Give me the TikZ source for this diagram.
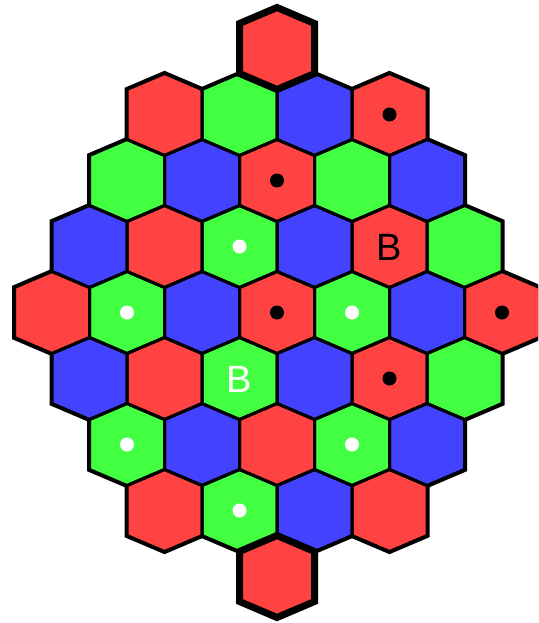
\documentclass[tikz,border=0pt]{standalone}
\usepackage{fontspec}
\setmainfont{Liberation Sans}
\definecolor{cRed}{HTML}{FF4242}
\definecolor{cGreen}{HTML}{42FF42}
\definecolor{cBlue}{HTML}{4242FF}
\tikzset{
  rim/.style={draw=black, line width=5pt},
  cell/.style={draw=black, line width=3pt},
  endcell/.style={draw=black, line width=7pt},
  letter/.style={font=\fontsize{38}{38}\selectfont, inner sep=0pt},
}
% pointy hexagon round centre (#1,#2)
\newcommand{\hexcell}[2]{(#1,#2-41) -- ++(37.5,16) -- ++(0,50) -- ++(-37.5,16) -- ++(-37.5,-16) -- ++(0,-50) -- cycle}
% column offset / row / colour
\newcommand{\boardcells}{0/1/cRed,
  -3/2/cRed, -1/2/cGreen, 1/2/cBlue, 3/2/cRed,
  -4/3/cGreen, -2/3/cBlue, 0/3/cRed, 2/3/cGreen, 4/3/cBlue,
  -5/4/cBlue, -3/4/cRed, -1/4/cGreen, 1/4/cBlue, 3/4/cRed, 5/4/cGreen,
  -6/5/cRed, -4/5/cGreen, -2/5/cBlue, 0/5/cRed, 2/5/cGreen, 4/5/cBlue, 6/5/cRed,
  -5/6/cBlue, -3/6/cRed, -1/6/cGreen, 1/6/cBlue, 3/6/cRed, 5/6/cGreen,
  -4/7/cGreen, -2/7/cBlue, 0/7/cRed, 2/7/cGreen, 4/7/cBlue,
  -3/8/cRed, -1/8/cGreen, 1/8/cBlue, 3/8/cRed,
  0/9/cRed}

\begin{document}
\begin{tikzpicture}[x=1pt, y=-1pt]
  \clip (0,0) rectangle (538,623);
  % thick rim first, the fills then hide its inner half
  \foreach \k/\r/\c [evaluate=\k as \cx using 277+37.5*\k,
      evaluate=\r as \cy using 48.5+66*(\r-1)] in \boardcells
    \draw[rim] \hexcell{\cx}{\cy};
  \foreach \k/\r/\c [evaluate=\k as \cx using 277+37.5*\k,
      evaluate=\r as \cy using 48.5+66*(\r-1)] in \boardcells
    \fill[\c] \hexcell{\cx}{\cy};
  \foreach \k/\r/\c [evaluate=\k as \cx using 277+37.5*\k,
      evaluate=\r as \cy using 48.5+66*(\r-1)] in \boardcells
    \draw[cell] \hexcell{\cx}{\cy};
  % end cells
  \draw[endcell] \hexcell{277}{48.5};
  \draw[endcell] \hexcell{277}{576.5};
  % stones
  \foreach \k/\r/\c [evaluate=\k as \cx using 277+37.5*\k,
      evaluate=\r as \cy using 48.5+66*(\r-1)] in
      {3/2/black, 0/3/black, 0/5/black, 6/5/black, 3/6/black,
       -1/4/white, -4/5/white, 2/5/white, -4/7/white, 2/7/white, -1/8/white}
    \fill[\c] (\cx,\cy) circle (7);
  \node[letter, text=black] (bRed) at (389,247.5) {B};
  \node[letter, text=white] (bGreen) at (239,379.5) {B};
\end{tikzpicture}
\end{document}
